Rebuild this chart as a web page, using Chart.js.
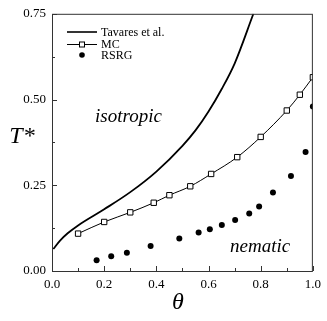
<!DOCTYPE html>
<html>
<head>
<meta charset="utf-8">
<script src="https://cdn.jsdelivr.net/npm/chart.js@4.4.0/dist/chart.umd.min.js"></script>
<style>
  html, body { margin: 0; padding: 0; background: #fff; }
  #wrap { width: 327px; height: 321px; }
</style>
</head>
<body>
<div id="wrap"><canvas id="phase"></canvas></div>
<script>
// dati
const tavaresTheta = [0.005, 0.03, 0.06, 0.1, 0.2, 0.3, 0.4, 0.5, 0.55, 0.6, 0.65, 0.7, 0.772];
const tavaresT     = [0.064, 0.088, 0.110, 0.133, 0.180, 0.230, 0.290, 0.365, 0.410, 0.465, 0.530, 0.605, 0.75];

const mcTheta = [0.1, 0.2, 0.3, 0.39, 0.45, 0.53, 0.61, 0.71, 0.8, 0.9, 0.95, 1.0];
const mcT     = [0.109, 0.143, 0.171, 0.199, 0.221, 0.247, 0.283, 0.332, 0.391, 0.468, 0.514, 0.565];

const rsrgTheta = [0.171, 0.227, 0.287, 0.378, 0.488, 0.562, 0.605, 0.651, 0.702, 0.756, 0.794, 0.847, 0.916, 0.972, 1.0];
const rsrgT     = [0.031, 0.043, 0.053, 0.073, 0.095, 0.112, 0.122, 0.134, 0.149, 0.168, 0.188, 0.229, 0.277, 0.347, 0.48];

const xMajor = [0, 0.2, 0.4, 0.6, 0.8, 1.0];
const xMinor = [0.1, 0.3, 0.5, 0.7, 0.9];
const yMajor = [0, 0.25, 0.5, 0.75];
const yMinor = [0.125, 0.375, 0.625];

const legendLabels = ["Tavares et al.", "MC", "RSRG"];
const regionLabels = ["isotropic", "nematic"];

const serif = "'Liberation Serif', 'Times New Roman', serif";

const toPts = (xs, ys) => xs.map((x, i) => ({ x: x, y: ys[i] }));

// tacche interne, cornice, legenda e scritte
const decor = {
  id: "decor",
  afterDraw(chart) {
    const { ctx, chartArea: a, scales } = chart;
    const xs = scales.x, ys = scales.y;
    ctx.save();
    ctx.strokeStyle = "#333";
    ctx.lineWidth = 1;
    ctx.strokeRect(a.left + 0.5, a.top + 0.5, a.right - a.left - 1, a.bottom - a.top);

    ctx.beginPath();
    xMajor.forEach(v => { const p = Math.round(xs.getPixelForValue(v)) + 0.5; ctx.moveTo(p, a.bottom); ctx.lineTo(p, a.bottom - 5); });
    xMinor.forEach(v => { const p = Math.round(xs.getPixelForValue(v)) + 0.5; ctx.moveTo(p, a.bottom); ctx.lineTo(p, a.bottom - 3); });
    yMajor.forEach(v => { const p = Math.round(ys.getPixelForValue(v)) + 0.5; ctx.moveTo(a.left, p); ctx.lineTo(a.left + 5, p); });
    yMinor.forEach(v => { const p = Math.round(ys.getPixelForValue(v)) + 0.5; ctx.moveTo(a.left, p); ctx.lineTo(a.left + 3, p); });
    ctx.stroke();

    // legenda
    const lx0 = 67, lx1 = 97, tx = 101;
    const rows = [32, 44, 55];
    ctx.fillStyle = "#000";
    ctx.font = "12px " + serif;
    ctx.textBaseline = "middle";
    ctx.textAlign = "left";
    ctx.strokeStyle = "#000";
    ctx.lineWidth = 1.6;
    ctx.beginPath(); ctx.moveTo(lx0, rows[0]); ctx.lineTo(lx1, rows[0]); ctx.stroke();
    ctx.lineWidth = 1;
    ctx.beginPath(); ctx.moveTo(lx0, rows[1] + 0.5); ctx.lineTo(lx1, rows[1] + 0.5); ctx.stroke();
    ctx.fillStyle = "#fff";
    ctx.fillRect(79, rows[1] - 2.5, 6, 6);
    ctx.strokeRect(79.5, rows[1] - 2, 5, 5);
    ctx.fillStyle = "#000";
    ctx.beginPath(); ctx.arc(82, rows[2], 2.8, 0, Math.PI * 2); ctx.fill();
    legendLabels.forEach((t, i) => ctx.fillText(t, tx, rows[i] + 1));

    // scritte delle fasi
    ctx.font = "italic 19px " + serif;
    ctx.textBaseline = "alphabetic";
    ctx.fillText(regionLabels[0], 95, 122);
    ctx.fillText(regionLabels[1], 230, 252);

    // titoli assi
    ctx.font = "italic 24px " + serif;
    ctx.textAlign = "center";
    ctx.textBaseline = "middle";
    ctx.fillText("T*", 22, 137);
    ctx.fillText("\u03B8", 178, 303);
    ctx.restore();
  }
};

new Chart(document.getElementById("phase"), {
  type: "scatter",
  data: {
    datasets: [
      {
        label: legendLabels[0],
        data: toPts(tavaresTheta, tavaresT),
        showLine: true,
        borderColor: "#000",
        borderWidth: 1.8,
        pointRadius: 0,
        cubicInterpolationMode: "monotone",
      },
      {
        label: legendLabels[1],
        data: toPts(mcTheta, mcT),
        showLine: true,
        borderColor: "#000",
        borderWidth: 1,
        pointStyle: "rect",
        pointRadius: 3.8,
        pointBackgroundColor: "#fff",
        pointBorderColor: "#000",
        pointBorderWidth: 1,
        cubicInterpolationMode: "monotone",
      },
      {
        label: legendLabels[2],
        data: toPts(rsrgTheta, rsrgT),
        showLine: false,
        pointRadius: 3,
        pointBackgroundColor: "#000",
        pointBorderColor: "#000",
        pointBorderWidth: 0,
      },
    ],
  },
  options: {
    responsive: true,
    maintainAspectRatio: false,
    animation: false,
    layout: { padding: { top: 8, right: 14, left: 0, bottom: 0 } },
    plugins: {
      legend: { display: false },
      tooltip: { enabled: false },
    },
    scales: {
      x: {
        type: "linear",
        min: 0,
        max: 1,
        afterFit: s => { s.height = 50; },
        afterBuildTicks: s => { s.ticks = xMajor.map(v => ({ value: v })); },
        grid: { display: false, drawTicks: false },
        border: { display: false },
        ticks: {
          padding: 6,
          color: "#000",
          font: { family: serif, size: 13 },
          callback: v => v.toFixed(1),
        },
      },
      y: {
        type: "linear",
        min: 0,
        max: 0.75,
        afterFit: s => { s.width = 52; },
        afterBuildTicks: s => { s.ticks = yMajor.map(v => ({ value: v })); },
        grid: { display: false, drawTicks: false },
        border: { display: false },
        ticks: {
          padding: 6,
          color: "#000",
          font: { family: serif, size: 13 },
          callback: v => v.toFixed(2),
        },
      },
    },
  },
  plugins: [decor],
});
</script>
</body>
</html>
